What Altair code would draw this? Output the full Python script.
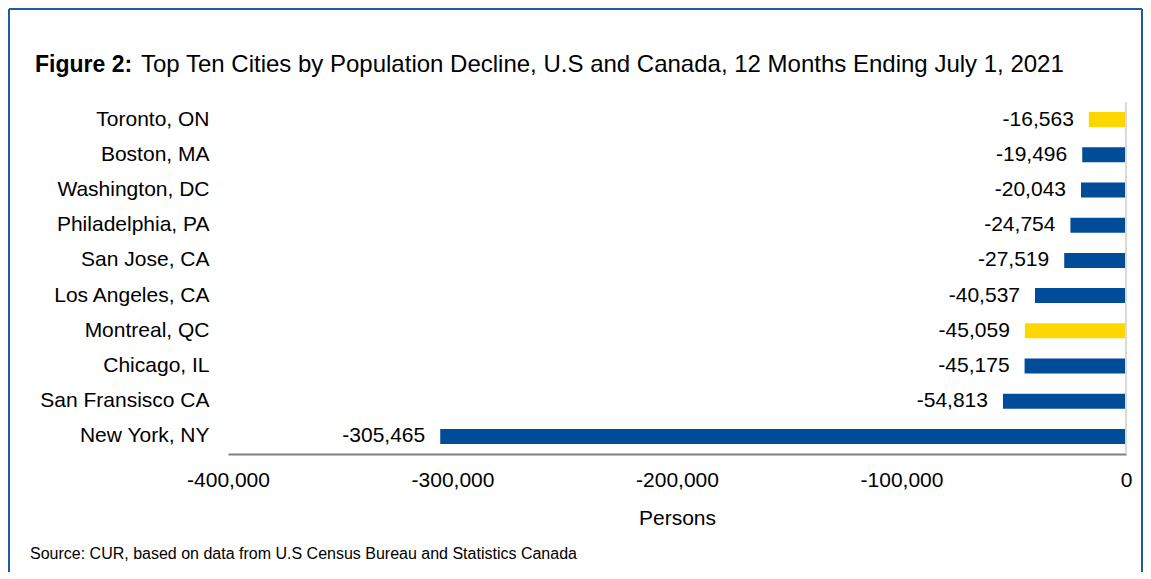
import altair as alt
import pandas as pd

cities = ["Toronto, ON", "Boston, MA", "Washington, DC", "Philadelphia, PA", "San Jose, CA",
          "Los Angeles, CA", "Montreal, QC", "Chicago, IL", "San Fransisco CA", "New York, NY"]
change = [-16563, -19496, -20043, -24754, -27519, -40537, -45059, -45175, -54813, -305465]
country = ["Canada", "US", "US", "US", "US", "US", "Canada", "US", "US", "US"]
ticks = [-400000, -300000, -200000, -100000, 0]

df = pd.DataFrame({"city": cities, "change": change, "country": country})

FONT = "Liberation Sans"
BLUE = "#004C99"
YELLOW = "#FFD700"
FRAME = "#1F5AA6"
FS = 21
W, H = 898, 352

base = alt.Chart(df).transform_calculate(
    label="replace(format(datum.change, ','), '\u2212', '-')")

xenc = alt.X("change:Q", scale=alt.Scale(domain=[-400000, 0], nice=False),
             axis=alt.Axis(values=ticks,
                           labelExpr="replace(format(datum.value, ','), '\u2212', '-')",
                           title="Persons", titleFontSize=FS, titleFontWeight="normal",
                           titleColor="#000", titlePadding=17, labelFontSize=FS,
                           labelColor="#000", labelPadding=15, ticks=False, grid=False,
                           domainColor="#808080", domainWidth=2, labelFont=FONT,
                           titleFont=FONT, labelFlush=False, labelOverlap=False))
yenc = alt.Y("city:N", sort=cities,
             axis=alt.Axis(title=None, labelFontSize=FS, labelColor="#000", ticks=False,
                           domain=False, labelPadding=19, labelFont=FONT))

bars = base.mark_bar(size=15).encode(
    x=xenc, y=yenc,
    color=alt.Color("country:N", scale=alt.Scale(domain=["US", "Canada"], range=[BLUE, YELLOW]),
                    legend=None))

labels = base.mark_text(align="right", baseline="middle", dx=-15, fontSize=FS, font=FONT,
                        color="#000").encode(
    x=xenc, y=yenc, text="label:N")

zero = alt.Chart(alt.Data(values=[{"v": 0}])).mark_rule(color="#D9D9D9", strokeWidth=2).encode(
    x=alt.X("v:Q"), y=alt.value(0), y2=alt.value(H))

one = alt.Data(values=[{"a": 1}])
frame_top = alt.Chart(one).mark_rule(color=FRAME, strokeWidth=2).encode(
    x=alt.value(-219), x2=alt.value(914), y=alt.value(-93))
frame_left = alt.Chart(one).mark_rule(color=FRAME, strokeWidth=2).encode(
    x=alt.value(-219), y=alt.value(-93), y2=alt.value(490))
frame_right = alt.Chart(one).mark_rule(color=FRAME, strokeWidth=2).encode(
    x=alt.value(914), y=alt.value(-93), y2=alt.value(490))

title_bold = alt.Chart(one).mark_text(align="left", baseline="alphabetic", fontSize=23,
                                      fontWeight="bold", font=FONT, color="#000").encode(
    x=alt.value(-193), y=alt.value(-30), text=alt.value("Figure 2:"))
title_rest = alt.Chart(one).mark_text(align="left", baseline="alphabetic", fontSize=24,
                                      font=FONT, color="#000").encode(
    x=alt.value(-87), y=alt.value(-30),
    text=alt.value("Top Ten Cities by Population Decline, U.S and Canada, 12 Months Ending July 1, 2021"))
source = alt.Chart(one).mark_text(align="left", baseline="alphabetic", fontSize=16,
                                  font=FONT, color="#000").encode(
    x=alt.value(-198), y=alt.value(457),
    text=alt.value("Source: CUR, based on data from U.S Census Bureau and Statistics Canada"))

chart = alt.layer(frame_top, frame_left, frame_right, bars, zero, labels,
                  title_bold, title_rest, source).properties(
    width=W, height=H,
    padding={"left": 220, "top": 94, "right": 17, "bottom": 118},
    autosize=alt.AutoSizeParams(type="none"),
).configure(font=FONT, view=alt.ViewConfig(stroke=None))

chart.save("out.html", embed_options={"renderer": "svg", "actions": False})
